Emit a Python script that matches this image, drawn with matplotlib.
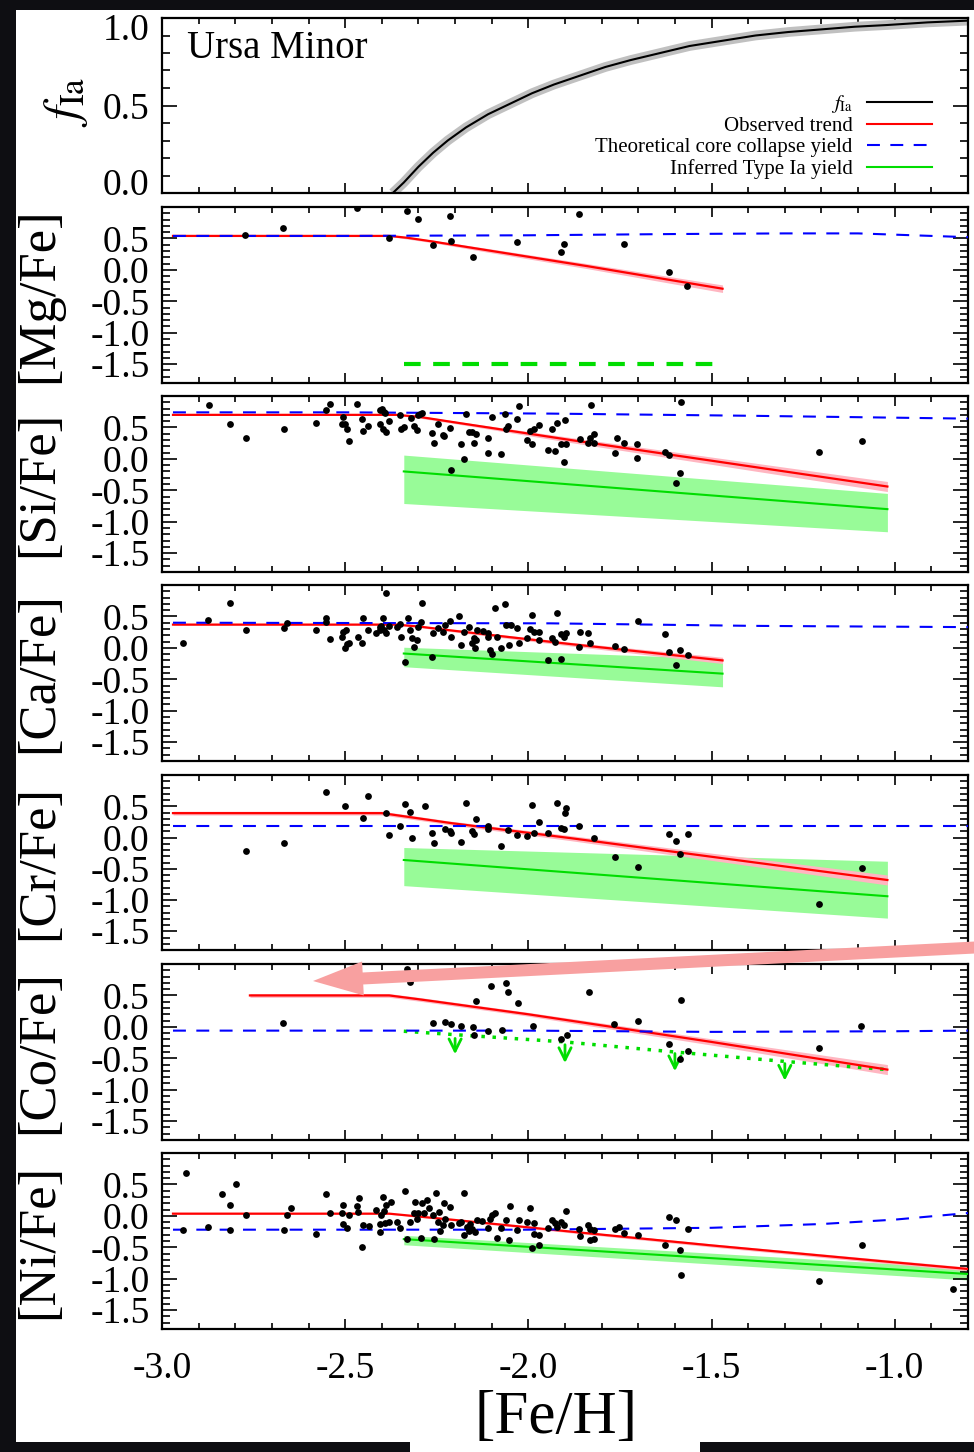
"""Ursa Minor abundance trends: f_Ia and [X/Fe] vs [Fe/H] panels."""

import matplotlib
matplotlib.use("Agg")
import matplotlib.pyplot as plt
from matplotlib.lines import Line2D
from matplotlib.patches import Rectangle, FancyArrow
from matplotlib.ticker import MultipleLocator, FormatStrFormatter
from matplotlib.transforms import ScaledTranslation

plt.rcParams['font.family'] = ['Liberation Serif', 'DejaVu Serif']
plt.rcParams['mathtext.fontset'] = 'stix'
plt.rcParams['axes.unicode_minus'] = False

# ---------------- data ----------------
fia_feh = [-2.37, -2.34, -2.30, -2.26, -2.22, -2.17, -2.11, -2.05, -1.99, -1.93,
           -1.86, -1.79, -1.72, -1.64, -1.56, -1.47, -1.38, -1.29, -1.20, -1.11,
           -1.02, -0.91, -0.80]
fia_val = [0.0, 0.06, 0.15, 0.23, 0.30, 0.375, 0.45, 0.51, 0.57, 0.62,
           0.67, 0.72, 0.76, 0.80, 0.84, 0.87, 0.90, 0.92, 0.935, 0.95,
           0.96, 0.975, 0.985]

# [Mg/Fe]
mg_feh = [-2.773, -2.669, -2.467, -2.380, -2.331, -2.300, -2.259, -2.215, -2.211,
          -2.151, -2.030, -1.910, -1.902, -1.863, -1.738, -1.615, -1.566]
mg_val = [0.55, 0.66, 0.98, 0.50, 0.94, 0.81, 0.39, 0.86, 0.46,
          0.20, 0.44, 0.28, 0.41, 0.89, 0.41, -0.04, -0.25]
mg_trend_feh = [-2.97, -2.38, -2.33, -2.26, -2.11, -1.84, -1.47]
mg_trend = [0.54, 0.54, 0.51, 0.45, 0.31, 0.06, -0.30]
mg_trend_err = [0.01, 0.01, 0.02, 0.02, 0.03, 0.04, 0.06]
mg_cc_feh = [-2.97, -2.5, -2.0, -1.6, -1.3, -1.1, -0.95, -0.80]
mg_cc = [0.54, 0.54, 0.55, 0.57, 0.58, 0.58, 0.55, 0.52]
mg_ia_feh = [-2.34, -1.48]
mg_ia = [-1.5, -1.5]

# [Si/Fe]
si_feh = [-2.873, -2.814, -2.771, -2.668, -2.579, -2.553, -2.541, -2.510, -2.505, -2.500,
          -2.494, -2.489, -2.468, -2.453, -2.450, -2.439, -2.406, -2.404, -2.400, -2.395,
          -2.398, -2.391, -2.388, -2.380, -2.350, -2.347, -2.339, -2.320, -2.311, -2.304,
          -2.301, -2.295, -2.291, -2.263, -2.257, -2.248, -2.234, -2.229, -2.215, -2.211,
          -2.183, -2.177, -2.169, -2.163, -2.154, -2.149, -2.143, -2.111, -2.110, -2.099,
          -2.074, -2.063, -2.060, -2.056, -2.031, -2.026, -2.005, -1.996, -1.990, -1.985,
          -1.972, -1.947, -1.935, -1.926, -1.923, -1.911, -1.903, -1.899, -1.896, -1.858,
          -1.838, -1.832, -1.829, -1.822, -1.822, -1.764, -1.758, -1.738, -1.703, -1.703,
          -1.628, -1.617, -1.596, -1.585, -1.583, -1.207, -1.090]
si_val = [0.85, 0.55, 0.33, 0.47, 0.57, 0.78, 0.88, 0.56, 0.67, 0.56,
          0.47, 0.28, 0.88, 0.64, 0.44, 0.52, 0.56, 0.78, 0.80, 0.75,
          0.47, 0.73, 0.43, 0.61, 0.69, 0.47, 0.51, 0.65, 0.52, 0.46,
          0.70, 0.71, 0.73, 0.41, 0.26, 0.55, 0.38, 0.36, 0.49, -0.18,
          0.23, 0.00, 0.72, 0.43, 0.42, 0.26, 0.39, 0.33, 0.10, 0.66,
          0.08, 0.71, 0.47, 0.52, 0.63, 0.84, 0.30, 0.45, 0.23, 0.47,
          0.54, 0.14, 0.48, 0.13, 0.57, 0.23, -0.05, 0.62, 0.23, 0.31,
          0.26, 0.33, 0.86, 0.40, 0.25, 0.10, 0.33, 0.25, 0.23, 0.02,
          0.11, 0.06, -0.38, -0.23, 0.90, 0.11, 0.28]
si_trend_feh = [-2.97, -2.36, -2.30, -2.20, -1.885, -1.02]
si_trend = [0.70, 0.70, 0.67, 0.58, 0.30, -0.44]
si_trend_err = [0.01, 0.01, 0.02, 0.02, 0.04, 0.08]
si_cc_feh = [-2.97, -2.5, -1.94, -1.39, -0.80]
si_cc = [0.74, 0.74, 0.72, 0.685, 0.64]
si_ia_feh = [-2.34, -1.02]
si_ia = [-0.20, -0.80]
si_ia_hi = [0.06, -0.55]
si_ia_lo = [-0.71, -1.16]

# [Ca/Fe]
ca_feh = [-2.942, -2.875, -2.814, -2.770, -2.668, -2.659, -2.579, -2.553, -2.553, -2.541,
          -2.510, -2.506, -2.500, -2.497, -2.494, -2.489, -2.466, -2.453, -2.450, -2.439,
          -2.416, -2.406, -2.404, -2.402, -2.398, -2.395, -2.389, -2.388, -2.380, -2.359,
          -2.350, -2.347, -2.336, -2.329, -2.324, -2.318, -2.311, -2.304, -2.302, -2.293,
          -2.291, -2.263, -2.259, -2.248, -2.234, -2.227, -2.215, -2.211, -2.189, -2.183,
          -2.177, -2.163, -2.154, -2.149, -2.145, -2.143, -2.140, -2.125, -2.111, -2.110,
          -2.104, -2.099, -2.090, -2.086, -2.074, -2.063, -2.060, -2.054, -2.047, -2.031,
          -2.026, -2.005, -1.995, -1.990, -1.985, -1.972, -1.972, -1.947, -1.935, -1.926,
          -1.922, -1.911, -1.911, -1.903, -1.896, -1.862, -1.860, -1.838, -1.832, -1.764,
          -1.738, -1.701, -1.628, -1.617, -1.596, -1.585, -1.565]
ca_val = [0.07, 0.45, 0.72, 0.28, 0.31, 0.40, 0.28, 0.48, 0.41, 0.14,
          0.17, 0.25, -0.01, 0.28, 0.06, 0.08, 0.18, 0.08, 0.48, 0.28,
          0.24, 0.33, 0.29, 0.35, 0.48, 0.28, 0.87, 0.24, 0.35, 0.33,
          0.38, 0.18, -0.23, 0.48, 0.29, 0.15, 0.01, 0.12, 0.33, 0.41,
          0.72, -0.15, 0.24, 0.31, 0.25, 0.37, 0.43, 0.17, 0.50, 0.04,
          0.25, 0.33, 0.08, 0.15, -0.01, 0.12, 0.28, 0.27, 0.23, 0.17,
          -0.04, -0.10, 0.63, 0.17, 0.00, 0.70, 0.36, 0.04, 0.37, 0.32,
          0.07, 0.16, 0.30, 0.52, 0.25, 0.25, 0.13, -0.20, 0.15, 0.09,
          0.56, -0.17, 0.22, 0.17, 0.23, 0.01, 0.25, 0.23, 0.07, 0.03,
          -0.02, 0.43, 0.22, -0.07, -0.28, -0.03, -0.12]
ca_trend_feh = [-2.97, -2.36, -2.30, -2.20, -1.885, -1.47]
ca_trend = [0.37, 0.37, 0.34, 0.27, 0.06, -0.20]
ca_trend_err = [0.01, 0.01, 0.015, 0.02, 0.03, 0.05]
ca_cc_feh = [-2.97, -1.94, -1.39, -0.80]
ca_cc = [0.40, 0.39, 0.35, 0.33]
ca_ia_feh = [-2.34, -1.47]
ca_ia = [-0.09, -0.41]
ca_ia_hi = [0.01, -0.17]
ca_ia_lo = [-0.30, -0.62]

# [Cr/Fe]
cr_feh = [-2.770, -2.668, -2.553, -2.500, -2.450, -2.439, -2.389, -2.380, -2.350, -2.336,
          -2.324, -2.318, -2.281, -2.263, -2.257, -2.227, -2.215, -2.210, -2.183, -2.169,
          -2.154, -2.149, -2.143, -2.111, -2.110, -2.074, -2.056, -2.031, -2.005, -1.990,
          -1.985, -1.972, -1.947, -1.923, -1.911, -1.903, -1.899, -1.896, -1.862, -1.822,
          -1.764, -1.701, -1.617, -1.596, -1.585, -1.565, -1.207, -1.090]
cr_val = [-0.21, -0.08, 0.73, 0.50, 0.32, 0.67, 0.39, 0.04, 0.18, 0.54,
          0.41, 0.00, 0.50, 0.08, -0.08, 0.14, 0.10, 0.08, -0.07, 0.56,
          0.10, 0.06, 0.29, 0.18, 0.13, -0.13, 0.12, 0.04, 0.02, 0.52,
          0.07, 0.25, 0.08, 0.55, 0.15, 0.13, 0.40, 0.48, 0.18, -0.01,
          -0.31, -0.47, 0.06, -0.05, -0.27, 0.05, -1.07, -0.48]
cr_trend_feh = [-2.97, -2.40, -2.34, -2.21, -1.885, -1.02]
cr_trend = [0.39, 0.39, 0.34, 0.23, -0.01, -0.68]
cr_trend_err = [0.03, 0.03, 0.03, 0.03, 0.04, 0.08]
cr_cc_feh = [-2.97, -0.80]
cr_cc = [0.19, 0.19]
cr_ia_feh = [-2.34, -1.02]
cr_ia = [-0.36, -0.94]
cr_ia_hi = [-0.16, -0.38]
cr_ia_lo = [-0.77, -1.29]

# [Co/Fe]
co_feh = [-2.67, -2.330, -2.323, -2.259, -2.227, -2.212, -2.183, -2.151, -2.148, -2.144,
          -2.111, -2.101, -2.072, -2.062, -2.055, -2.027, -1.986, -1.910, -1.895, -1.834,
          -1.765, -1.702, -1.617, -1.585, -1.583, -1.565, -1.206, -1.091]
co_val = [0.06, 0.92, 0.72, 0.06, 0.07, 0.05, 0.01, 0.00, -0.13, 0.41,
          -0.07, 0.65, -0.05, 0.70, 0.56, 0.38, 0.02, -0.20, -0.13, 0.55,
          0.05, 0.09, -0.28, -0.51, 0.42, -0.39, -0.34, 0.02]
co_trend_feh = [-2.76, -2.38, -2.30, -2.0, -1.5, -1.02]
co_trend = [0.50, 0.50, 0.44, 0.20, -0.24, -0.68]
co_trend_err = [0.03, 0.03, 0.03, 0.03, 0.05, 0.08]
co_cc_feh = [-2.97, -2.0, -1.5, -1.0, -0.80]
co_cc = [-0.06, -0.06, -0.08, -0.07, -0.06]
co_ia_feh = [-2.34, -1.9, -1.6, -1.3, -1.02]
co_ia = [-0.07, -0.24, -0.40, -0.55, -0.68]
co_arrow_feh = [-2.2, -1.9, -1.6, -1.3]
co_arrow_top = [-0.14, -0.24, -0.38, -0.54]
co_arrow_tip = [-0.48, -0.62, -0.75, -0.90]

# [Ni/Fe]
ni_feh = [-2.942, -2.934, -2.875, -2.837, -2.814, -2.814, -2.798, -2.771, -2.668, -2.658,
          -2.648, -2.579, -2.553, -2.541, -2.510, -2.505, -2.505, -2.494, -2.489, -2.468,
          -2.466, -2.462, -2.453, -2.450, -2.436, -2.416, -2.406, -2.404, -2.402, -2.398,
          -2.395, -2.391, -2.388, -2.380, -2.375, -2.359, -2.350, -2.336, -2.330, -2.324,
          -2.313, -2.309, -2.304, -2.300, -2.293, -2.291, -2.284, -2.277, -2.270, -2.259,
          -2.257, -2.251, -2.248, -2.245, -2.240, -2.234, -2.229, -2.227, -2.215, -2.211,
          -2.189, -2.183, -2.177, -2.177, -2.168, -2.163, -2.158, -2.154, -2.145, -2.140,
          -2.127, -2.111, -2.104, -2.099, -2.092, -2.086, -2.074, -2.060, -2.054, -2.049,
          -2.031, -2.026, -2.005, -1.996, -1.990, -1.985, -1.985, -1.972, -1.972, -1.947,
          -1.935, -1.926, -1.923, -1.911, -1.903, -1.896, -1.862, -1.860, -1.838, -1.832,
          -1.831, -1.822, -1.822, -1.764, -1.753, -1.738, -1.701, -1.628, -1.617, -1.596,
          -1.585, -1.583, -1.565, -1.206, -1.090, -0.842]
ni_val = [-0.22, 0.68, -0.18, 0.34, 0.18, -0.23, 0.50, 0.01, -0.22, 0.02,
          0.13, -0.29, 0.34, 0.04, 0.05, 0.18, -0.13, -0.20, 0.02, 0.15,
          0.06, 0.29, -0.50, -0.15, -0.16, 0.09, -0.13, -0.26, 0.02, 0.30,
          0.07, -0.12, 0.18, -0.09, 0.22, -0.09, -0.19, 0.40, -0.37, -0.10,
          0.04, 0.22, -0.05, 0.04, -0.35, 0.20, 0.05, 0.25, 0.12, 0.01,
          -0.37, 0.36, -0.10, 0.06, -0.24, -0.15, 0.20, -0.05, 0.14, -0.15,
          -0.12, -0.10, 0.36, -0.30, -0.18, -0.24, -0.13, -0.21, -0.25, -0.07,
          -0.08, -0.20, -0.05, 0.01, 0.05, -0.36, -0.20, -0.06, -0.38, 0.15,
          -0.23, -0.06, -0.10, 0.13, -0.51, -0.12, -0.29, -0.47, -0.30, -0.20,
          -0.07, -0.12, -0.17, -0.10, -0.15, 0.08, -0.21, -0.32, -0.14, -0.38,
          -0.21, -0.37, -0.23, -0.21, -0.18, -0.28, -0.31, -0.47, -0.02, -0.06,
          -0.55, -0.94, -0.21, -1.03, -0.47, -1.17]
ni_trend_feh = [-2.97, -2.38, -2.21, -1.885, -1.5, -1.0, -0.80]
ni_trend = [0.035, 0.035, -0.06, -0.25, -0.47, -0.74, -0.845]
ni_trend_err = [0.01, 0.01, 0.015, 0.02, 0.025, 0.03, 0.03]
ni_cc_feh = [-2.97, -2.0, -1.5, -1.2, -1.0, -0.80]
ni_cc = [-0.22, -0.22, -0.19, -0.13, -0.06, 0.045]
ni_ia_feh = [-2.34, -0.80]
ni_ia = [-0.37, -0.925]
ni_ia_hi = [-0.31, -0.83]
ni_ia_lo = [-0.46, -1.02]

# ---------------- styling ----------------
RED, PINK = '#ff0000', '#ffb6c1'
BLUE = '#0000ff'
GREEN, LIGHTGREEN = '#00dd00', '#98fb98'
W, H = 974, 1452
AX_L, AX_R = 162, 968
panel_px = [(18, 193), (207, 383), (396, 572), (585, 761), (775, 950), (964, 1140), (1153, 1329)]
TICK_FS = 27
CC_DASH = (6.2, 5)


def make_axes(fig, top, bot):
    ax = fig.add_axes([AX_L / W, 1 - bot / H, (AX_R - AX_L) / W, (bot - top) / H])
    ax.set_xlim(-3.0, -0.8)
    ax.xaxis.set_major_locator(MultipleLocator(0.5))
    ax.xaxis.set_minor_locator(MultipleLocator(0.1))
    ax.yaxis.set_minor_locator(MultipleLocator(0.1))
    ax.tick_params(which='both', direction='in', top=True, right=True,
                   labelsize=TICK_FS, width=1.2, labelbottom=False)
    ax.tick_params(axis='y', which='major', length=11, pad=9)
    ax.tick_params(axis='y', which='minor', length=5.5)
    ax.tick_params(axis='x', which='major', length=7, pad=16)
    ax.tick_params(axis='x', which='minor', length=4)
    ax.yaxis.set_major_formatter(FormatStrFormatter('%.1f'))
    ax.xaxis.set_major_formatter(FormatStrFormatter('%.1f'))
    for s in ax.spines.values():
        s.set_linewidth(1.6)
    return ax


fig = plt.figure(figsize=(W / 100, H / 100), dpi=100)
fig.patch.set_facecolor('#0e0e12')
fig.add_artist(Rectangle((16, 10), W - 16, H - 20, transform=None,
                         facecolor='white', edgecolor='none', zorder=-10))
fig.add_artist(Rectangle((410, 0), 290, 12, transform=None,
                         facecolor='white', edgecolor='none', zorder=-10))

# ---- top panel: f_Ia ----
ax0 = make_axes(fig, *panel_px[0])
ax0.set_ylim(0, 1.0)
ax0.set_yticks([0.0, 0.5, 1.0])
ax0.plot(fia_feh, fia_val, color='#c0c0c0', lw=7, solid_capstyle='butt')
ax0.plot(fia_feh, fia_val, color='black', lw=1.5)
# edge labels sit inside the frame, as in the original
fig.canvas.draw()
ylabs = ax0.get_yticklabels()
ylabs[0].set_transform(ylabs[0].get_transform() + ScaledTranslation(0, 0.11, fig.dpi_scale_trans))
ylabs[-1].set_transform(ylabs[-1].get_transform() + ScaledTranslation(0, -0.09, fig.dpi_scale_trans))
ax0.text((187 - AX_L) / (AX_R - AX_L), (193 - 48) / 175, 'Ursa Minor',
         transform=ax0.transAxes, fontsize=28, va='center', ha='left')
handles = [Line2D([], [], color='black', lw=1.5),
           Line2D([], [], color=RED, lw=1.5),
           Line2D([], [], color=BLUE, lw=1.5, dashes=CC_DASH),
           Line2D([], [], color=GREEN, lw=1.5)]
labels = [r'$f_{\rm Ia}$', 'Observed trend', 'Theoretical core collapse yield',
          'Inferred Type Ia yield']
ax0.legend(handles, labels, loc='lower right', markerfirst=False, frameon=False,
           fontsize=15, handlelength=3.1, handletextpad=0.7, labelspacing=0.08,
           borderpad=0, borderaxespad=0,
           bbox_to_anchor=((932 - AX_L) / (AX_R - AX_L), (193 - 179) / 175))
fig.text(66 / W, 1 - 102 / H, r'$f_{\rm Ia}$', rotation=90, fontsize=36,
         ha='center', va='center')

panels = [
    ('[Mg/Fe]', mg_feh, mg_val, mg_trend_feh, mg_trend, mg_trend_err, mg_cc_feh, mg_cc),
    ('[Si/Fe]', si_feh, si_val, si_trend_feh, si_trend, si_trend_err, si_cc_feh, si_cc),
    ('[Ca/Fe]', ca_feh, ca_val, ca_trend_feh, ca_trend, ca_trend_err, ca_cc_feh, ca_cc),
    ('[Cr/Fe]', cr_feh, cr_val, cr_trend_feh, cr_trend, cr_trend_err, cr_cc_feh, cr_cc),
    ('[Co/Fe]', co_feh, co_val, co_trend_feh, co_trend, co_trend_err, co_cc_feh, co_cc),
    ('[Ni/Fe]', ni_feh, ni_val, ni_trend_feh, ni_trend, ni_trend_err, ni_cc_feh, ni_cc),
]
ia_bands = {
    '[Si/Fe]': (si_ia_feh, si_ia, si_ia_lo, si_ia_hi),
    '[Ca/Fe]': (ca_ia_feh, ca_ia, ca_ia_lo, ca_ia_hi),
    '[Cr/Fe]': (cr_ia_feh, cr_ia, cr_ia_lo, cr_ia_hi),
    '[Ni/Fe]': (ni_ia_feh, ni_ia, ni_ia_lo, ni_ia_hi),
}

axes = []
for i, (name, fx, fy, tx, ty, te, cx, cy) in enumerate(panels):
    top, bot = panel_px[i + 1]
    ax = make_axes(fig, top, bot)
    ax.set_ylim(-1.8, 1.0)
    ax.set_yticks([-1.5, -1.0, -0.5, 0.0, 0.5])

    if name in ia_bands:
        gx, gy, glo, ghi = ia_bands[name]
        ax.fill_between(gx, glo, ghi, color=LIGHTGREEN, lw=0, zorder=1)
        ax.plot(gx, gy, color=GREEN, lw=1.5, zorder=3)
    elif name == '[Mg/Fe]':
        ax.plot(mg_ia_feh, mg_ia, color=GREEN, lw=3, dashes=(4, 3), zorder=3)
    elif name == '[Co/Fe]':
        ax.plot(co_ia_feh, co_ia, color=GREEN, lw=2.5, dashes=(1, 2.2), zorder=3)
        for ax_x, a_top, a_tip in zip(co_arrow_feh, co_arrow_top, co_arrow_tip):
            ax.annotate('', xy=(ax_x, a_tip), xytext=(ax_x, a_top),
                        arrowprops=dict(arrowstyle='->', color=GREEN, lw=2,
                                        mutation_scale=22), zorder=3)

    lo = [v - e for v, e in zip(ty, te)]
    hi = [v + e for v, e in zip(ty, te)]
    ax.fill_between(tx, lo, hi, color=PINK, lw=0, zorder=2)
    ax.plot(tx, ty, color=RED, lw=1.6, zorder=3)
    ax.plot(cx, cy, color=BLUE, lw=1.5, dashes=CC_DASH, zorder=4)
    ax.scatter(fx, fy, s=24, color='black', lw=0, zorder=6)

    fig.text(39 / W, 1 - (top + bot) / 2 / H, name, rotation=90, fontsize=38,
             ha='center', va='center')
    axes.append(ax)

axes[-1].tick_params(labelbottom=True)
fig.text(556 / W, 1 - 1418 / H, '[Fe/H]', fontsize=44, ha='center', va='center')

# pink highlight arrow pointing at the [Co/Fe] plateau
fig.add_artist(FancyArrow(985, H - 947, 313 - 985, 947 - 981, width=12,
                          head_width=34, head_length=50, length_includes_head=True,
                          transform=None, facecolor='#f8a0a0', edgecolor='none',
                          zorder=20))

fig.savefig('out.png', dpi=100, facecolor=fig.get_facecolor())
